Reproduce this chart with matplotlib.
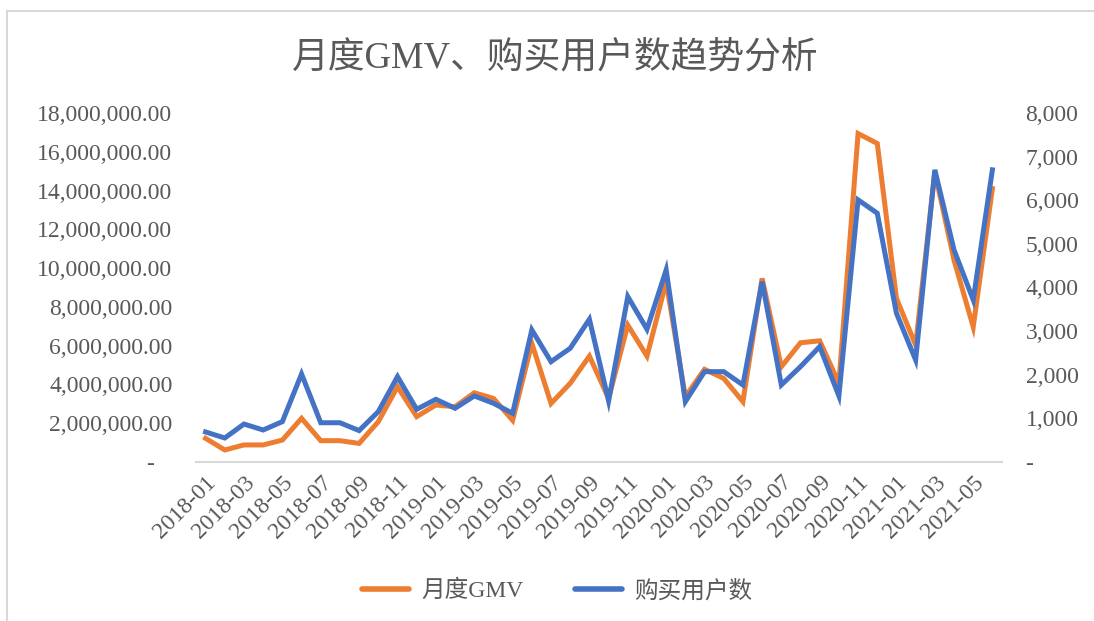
import matplotlib
matplotlib.use('Agg')
import matplotlib.pyplot as plt
from matplotlib.ticker import FuncFormatter
from matplotlib.lines import Line2D

plt.rcParams['font.family'] = ['Liberation Serif', 'Noto Sans CJK SC', 'DejaVu Sans']

# #############################################################################
# data: monthly GMV and buying users, 2018-01 .. 2021-06
months = ['%d-%02d' % (y, m) for y in range(2018, 2022) for m in range(1, 13)][:42]

gmv = [1.22e6, 0.62e6, 0.88e6, 0.88e6, 1.13e6, 2.25e6, 1.10e6, 1.10e6, 0.96e6, 2.08e6,
       3.88e6, 2.34e6, 2.94e6, 2.85e6, 3.57e6, 3.28e6, 2.15e6, 6.12e6, 3.02e6, 4.06e6,
       5.46e6, 3.28e6, 7.06e6, 5.46e6, 9.29e6, 3.37e6, 4.78e6, 4.31e6, 3.11e6, 9.47e6,
       4.91e6, 6.15e6, 6.25e6, 4.06e6, 16.94e6, 16.43e6, 8.44e6, 6.03e6, 14.96e6, 10.41e6,
       6.97e6, 14.10e6]

users = [688, 550, 870, 734, 925, 2018, 900, 900, 720, 1155,
         1957, 1208, 1437, 1231, 1514, 1346, 1117, 3028, 2300, 2607,
         3272, 1399, 3792, 3043, 4404, 1384, 2071, 2071, 1766, 4136,
         1766, 2186, 2645, 1514, 6009, 5703, 3410, 2339, 6697, 4862,
         3716, 6697]

orange = '#ED7D31'
blue = '#4472C4'
grey = '#595959'

# #############################################################################
# plot
fig = plt.figure(figsize=(10.94, 6.21), dpi=100)
ax = fig.add_axes([196/1094, 159/621, 806/1094, 349/621])
ax2 = ax.twinx()

x = list(range(len(months)))
ax.plot(x, gmv, color=orange, lw=3.6, solid_joinstyle='miter')
ax2.plot(x, users, color=blue, lw=3.6, solid_joinstyle='miter')

ax.set_xlim(-0.5, len(months) - 0.5)
ax.set_ylim(0, 18e6)
ax2.set_ylim(0, 8000)
ax.set_yticks(range(0, 18000001, 2000000))
ax2.set_yticks(range(0, 8001, 1000))

ax.yaxis.set_major_formatter(FuncFormatter(lambda v, p: '-   ' if v == 0 else '{:,.2f}'.format(v)))
ax2.yaxis.set_major_formatter(FuncFormatter(lambda v, p: '-' if v == 0 else '{:,.0f}'.format(v)))

ax.set_xticks(x[::2])
ax.set_xticklabels(months[::2], rotation=45, ha='right', rotation_mode='anchor')

for a in (ax, ax2):
    for s in a.spines.values():
        s.set_visible(False)
    a.tick_params(length=0, labelsize=17, labelcolor=grey)
ax.tick_params(axis='y', pad=17)
ax2.tick_params(axis='y', pad=17)
ax.tick_params(axis='x', pad=7)
ax.spines['bottom'].set_visible(True)
ax.spines['bottom'].set_color('#d9d9d9')
ax.spines['bottom'].set_linewidth(1.5)

fig.text(555/1094, 1 - 58/621, '月度GMV、购买用户数趋势分析', ha='center', va='center',
         fontsize=26.5, color=grey)

handles = [Line2D([], [], color=orange, lw=4, solid_capstyle='round'),
           Line2D([], [], color=blue, lw=4, solid_capstyle='round')]
fig.legend(handles, ['月度GMV', '购买用户数'], loc='center', bbox_to_anchor=(557/1094, 1 - 591/621),
           ncol=2, frameon=False, fontsize=17, labelcolor=grey, handlelength=2.0,
           columnspacing=2.2, handletextpad=0.5)

# chart frame (only top and left edges visible)
fig.add_artist(Line2D([7/1094, 7/1094], [0, 1 - 11/621], color='#d9d9d9', lw=1.5))
fig.add_artist(Line2D([7/1094, 1], [1 - 11/621, 1 - 11/621], color='#d9d9d9', lw=1.5))

plt.savefig('out.png', dpi=100)
